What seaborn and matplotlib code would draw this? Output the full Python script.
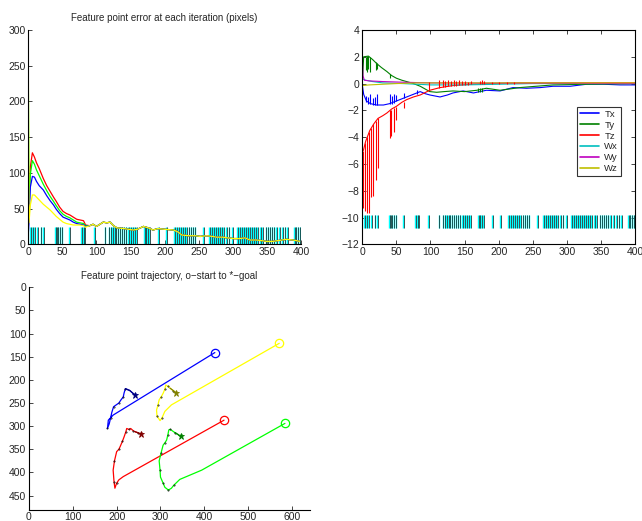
import numpy as np
import matplotlib
matplotlib.use('Agg')
import matplotlib.pyplot as plt
import seaborn as sns

# --- feature point error (top left) ---
head_x = [0, 1, 3, 6, 9, 12, 16, 22, 27, 32, 37, 41, 46, 51, 56, 61, 66, 71, 76, 81, 84]
err_red = [30, 60, 108, 128, 122, 114, 106, 92, 82, 74, 66, 60, 52, 46, 43, 41, 38, 35, 34, 33, 27]
err_green = [240, 50, 98, 117, 112, 104, 96, 84, 75, 67, 60, 54, 47, 42, 39, 37, 34, 31, 30, 29, 26]
err_blue = [15, 30, 80, 95, 94, 88, 82, 76, 68, 61, 55, 49, 43, 38, 36, 34, 31, 29, 28, 27, 25]
err_yellow = [257, 30, 55, 69, 69, 66, 62, 56, 52, 48, 43, 39, 35, 31, 29, 28, 27, 27, 27, 26, 24]
tail_x = [90, 95, 100, 105, 110, 115, 120, 125, 130, 140, 154, 160, 169, 176, 183, 190, 200, 213,
          220, 225, 235, 245, 252, 262, 270, 276, 285, 292, 301, 310, 318, 325, 335, 343, 350, 358,
          365, 372, 379, 388, 394, 398]
tail_y = [26, 28, 25, 28, 31, 30, 31, 26, 23, 22, 20, 21, 25, 23, 20, 22, 21, 20, 17, 13, 12, 12,
          11, 12, 11, 10, 10, 9, 8, 8, 9, 6, 6, 5, 4, 4, 5, 6, 7, 6, 5, 4]

# iterations where the marks at the bottom were drawn
rug_iters = [3, 6, 9, 13, 18, 22, 39, 41, 43, 46, 49, 60, 78, 80, 82, 97, 112, 118, 121, 123, 126,
             128, 131, 134, 137, 140, 143, 146, 149, 152, 155, 158, 170, 172, 174, 177, 190, 202,
             214, 217, 220, 223, 226, 229, 232, 235, 238, 241, 244, 256, 265, 268, 271, 274, 277,
             280, 283, 286, 290, 294, 299, 306, 309, 312, 315, 318, 321, 324, 327, 330, 333, 336,
             340, 343, 348, 351, 354, 357, 360, 364, 368, 372, 376, 380, 390, 392, 395, 398]

# --- camera velocity (top right) ---
tx_x = [0, 2, 6, 12, 21, 31, 40, 50, 65, 75, 85, 92, 99, 114, 125, 133, 148, 163, 182, 202, 221,
        241, 261, 280, 305, 329, 354, 378, 400]
tx_y = [-0.1, -0.8, -1.3, -1.5, -1.6, -1.6, -1.5, -1.3, -1.0, -0.8, -0.6, -0.75, -0.85, -1.0,
        -0.85, -0.7, -0.55, -0.7, -0.5, -0.55, -0.3, -0.35, -0.3, -0.2, -0.2, -0.05, -0.05, -0.1, -0.1]
ty_x = [0, 2, 9, 15, 21, 28, 36, 43, 50, 58, 65, 75, 85, 92, 99, 109, 120, 133, 150, 168, 182,
        202, 231, 255, 280, 329, 400]
ty_y = [0, 2.0, 2.05, 1.8, 1.5, 1.2, 0.9, 0.6, 0.4, 0.25, 0.15, 0.0, -0.2, -0.4, -0.6, -0.65,
        -0.6, -0.55, -0.6, -0.5, -0.35, -0.5, -0.3, -0.2, -0.1, -0.05, 0.0]
tz_x = [0, 1.5, 5, 11, 17, 23, 30, 36, 43, 50, 58, 65, 75, 85, 99, 114, 133, 160, 182, 230, 300, 400]
tz_y = [-5.0, -5.0, -4.3, -3.5, -3.0, -2.6, -2.4, -2.2, -1.9, -1.7, -1.4, -1.2, -1.0, -0.85,
        -0.5, -0.3, -0.15, -0.05, 0.0, 0.05, 0.05, 0.05]
wx_x = [0, 5, 15, 30, 60, 100, 150, 200, 250, 400]
wx_y = [0.35, 0.25, 0.15, 0.05, 0.0, -0.1, -0.1, -0.05, 0.0, 0.0]
wy_x = [0, 1, 3, 10, 30, 60, 100, 400]
wy_y = [1.9, 0.6, 0.25, 0.2, 0.15, 0.1, 0.05, 0.0]
wz_x = [0, 10, 30, 50, 80, 400]
wz_y = [-0.15, -0.1, -0.05, 0.0, 0.05, 0.05]

# spikes: iteration, low end, high end
tz_spike_x = [1, 4, 7, 10, 13, 16, 20, 23, 40, 42, 46, 49, 61]
tz_spike_lo = [-9.3, -9.5, -9.7, -9.7, -8.5, -8.4, -7.2, -6.3, -4.05, -3.9, -3.6, -2.7, -1.8]
tz_spike_hi = [-5.0, -4.4, -4.0, -3.6, -3.3, -3.0, -2.8, -2.6, -2.0, -1.95, -1.85, -1.75, -1.35]
tz_up_x = [98, 113, 118, 122, 126, 130, 134, 138, 142, 146, 150, 155, 160, 172, 175, 178, 190,
           200, 212, 222]
tz_up_lo = [-0.5, -0.3, -0.25, -0.25, -0.2, -0.2, -0.15, -0.15, -0.1, -0.1, -0.1, -0.1, -0.05,
            0, 0, 0, 0, 0, 0, 0]
tz_up_hi = [0.1, 0.25, 0.25, 0.2, 0.25, 0.2, 0.25, 0.2, 0.25, 0.2, 0.2, 0.15, 0.2, 0.2, 0.25,
            0.2, 0.15, 0.15, 0.15, 0.1]
tx_spike_x = [6, 9, 12, 15, 18, 22, 40, 43, 46, 50, 61, 80]
tx_spike_lo = [-1.4, -1.5, -1.55, -1.6, -1.6, -1.6, -1.55, -1.5, -1.45, -1.3, -1.1, -0.8]
tx_spike_hi = [-0.9, -1.0, -0.8, -1.1, -1.0, -0.8, -0.8, -0.9, -0.8, -0.85, -0.7, -0.5]
ty_spike_x = [5, 7, 9, 12, 20, 22, 40, 170, 173, 176]
ty_spike_lo = [1.0, 0.9, 1.1, 0.9, 1.0, 1.1, 0.4, -0.6, -0.6, -0.6]
ty_spike_hi = [2.0, 2.05, 2.05, 2.0, 1.6, 1.55, 0.75, -0.3, -0.3, -0.35]

vel_labels = ['Tx', 'Ty', 'Tz', 'Wx', 'Wy', 'Wz']
vel_colors = ['#0000ff', '#008000', '#ff0000', '#00bfbf', '#bf00bf', '#bfbf00']

# --- feature trajectories (bottom) ---
traj_blue_x = [424, 192, 181, 179, 183, 186, 189, 193, 199, 205, 210, 215, 217, 220, 230, 242]
traj_blue_y = [141, 276, 287, 305, 295, 283, 270, 258, 254, 250, 243, 237, 228, 219, 223, 233]
traj_yellow_x = [571, 325, 310, 303, 299, 292, 291, 294, 297, 302, 306, 310, 312, 317, 322, 329, 335]
traj_yellow_y = [121, 254, 268, 283, 288, 278, 265, 255, 243, 236, 229, 220, 211, 214, 218, 223, 228]
traj_red_x = [445, 215, 205, 200, 196, 194, 192, 195, 200, 205, 208, 213, 217, 221, 223, 228, 232,
              238, 242, 248, 255]
traj_red_y = [287, 409, 416, 423, 434, 420, 395, 375, 355, 350, 344, 333, 323, 312, 305, 307, 305,
              310, 312, 314, 317]
traj_green_x = [584, 394, 344, 330, 325, 318, 310, 306, 300, 299, 297, 301, 306, 310, 314, 317, 319,
                322, 327, 333, 340, 346]
traj_green_y = [294, 395, 415, 428, 434, 438, 432, 423, 410, 395, 375, 359, 341, 336, 330, 318, 308,
                307, 310, 314, 318, 322]

sns.set_style('white')
plt.rcParams['font.family'] = ['Liberation Sans', 'DejaVu Sans']
plt.rcParams['font.size'] = 7.5
plt.rcParams['axes.unicode_minus'] = True

fig = plt.figure(figsize=(6.42, 5.21), dpi=100)
ax1 = fig.add_axes([28.3 / 642, 1 - 244.3 / 521, 272.7 / 642, 214.5 / 521])
ax2 = fig.add_axes([362.3 / 642, 1 - 244.3 / 521, 272.7 / 642, 214.3 / 521])
ax3 = fig.add_axes([29 / 642, 1 - 509.5 / 521, 280.5 / 642, 222.2 / 521])


def style(ax, box):
    for s in ax.spines.values():
        s.set_color('black')
        s.set_linewidth(0.8)
    if not box:
        ax.spines['top'].set_visible(False)
        ax.spines['right'].set_visible(False)
    ax.tick_params(direction='in', length=3, width=0.6, pad=2, labelsize=7.5,
                   top=box, right=box, bottom=True, left=True)


# top left
ax1.vlines(rug_iters, 0, 24, color='#00ffff', lw=1.0)
ax1.vlines(np.array(rug_iters) + 1, 0, 24, color='#1a3a3a', lw=0.6)
for vals, c in [(err_red, '#ff0000'), (err_green, '#00ff00'), (err_blue, '#0000ff'), (err_yellow, '#ffff00')]:
    sns.lineplot(x=head_x + tail_x, y=vals + tail_y, ax=ax1, color=c, lw=0.9,
                 sort=False, estimator=None)
ax1.set_xlim(0, 400)
ax1.set_ylim(0, 300)
ax1.set_xticks(range(0, 401, 50))
ax1.set_yticks(range(0, 301, 50))
ax1.set_title('Feature point error at each iteration (pixels)', fontsize=7, pad=6)
ax1.set_xlabel('')
ax1.set_ylabel('')
style(ax1, False)

# top right
ax2.vlines(rug_iters, -10.8, -9.8, color='#00ffff', lw=1.0)
ax2.vlines(np.array(rug_iters) + 1, -10.8, -9.8, color='#1a3a3a', lw=0.6)
series = [(tx_x, tx_y), (ty_x, ty_y), (tz_x, tz_y), (wx_x, wx_y), (wy_x, wy_y), (wz_x, wz_y)]
for (xs, ys), lab, c in zip(series, vel_labels, vel_colors):
    sns.lineplot(x=xs, y=ys, ax=ax2, color=c, lw=0.8, label=lab, sort=False, estimator=None)
ax2.vlines(tx_spike_x, tx_spike_lo, tx_spike_hi, color=vel_colors[0], lw=0.8)
ax2.vlines(ty_spike_x, ty_spike_lo, ty_spike_hi, color=vel_colors[1], lw=0.8)
ax2.vlines(tz_spike_x, tz_spike_lo, tz_spike_hi, color=vel_colors[2], lw=0.8)
ax2.vlines(tz_up_x, tz_up_lo, tz_up_hi, color=vel_colors[2], lw=0.8)
ax2.set_xlim(0, 400)
ax2.set_ylim(-12, 4)
ax2.set_xticks(range(0, 401, 50))
ax2.set_yticks(range(-12, 5, 2))
ax2.set_xlabel('')
ax2.set_ylabel('')
leg = ax2.legend(loc='upper left', bbox_to_anchor=(0.787, 0.641), borderaxespad=0,
                 fontsize=6.8, frameon=True, fancybox=False, handlelength=2.0,
                 labelspacing=0.2, borderpad=0.3, handletextpad=0.6)
leg.get_frame().set_edgecolor('black')
leg.get_frame().set_linewidth(0.8)
for h in leg.get_lines():
    h.set_linewidth(1.2)
style(ax2, True)

# bottom
trajs = [(traj_blue_x, traj_blue_y, '#0000ff', '#000080'),
         (traj_yellow_x, traj_yellow_y, '#ffff00', '#808000'),
         (traj_red_x, traj_red_y, '#ff0000', '#800000'),
         (traj_green_x, traj_green_y, '#00ff00', '#008000')]
for xs, ys, c, dark in trajs:
    sns.lineplot(x=xs, y=ys, ax=ax3, color=c, lw=0.9, sort=False, estimator=None)
    ax3.plot(xs[3::2], ys[3::2], '.', color='black', ms=0.8)
    ax3.plot(xs[-3:], ys[-3:], color=dark, lw=0.9)
    ax3.plot(xs[0], ys[0], 'o', mfc='none', mec=c, ms=6, mew=0.9)
    ax3.plot(xs[-1], ys[-1], '*', color=dark, ms=5, mew=0.6)
ax3.set_xlim(0, 640)
ax3.set_ylim(480, 0)
ax3.set_xticks(range(0, 601, 100))
ax3.set_yticks(range(0, 451, 50))
ax3.set_title('Feature point trajectory, o\u2212start to *\u2212goal', fontsize=7, pad=6)
ax3.set_xlabel('')
ax3.set_ylabel('')
style(ax3, False)

fig.savefig('out.png', dpi=100)
